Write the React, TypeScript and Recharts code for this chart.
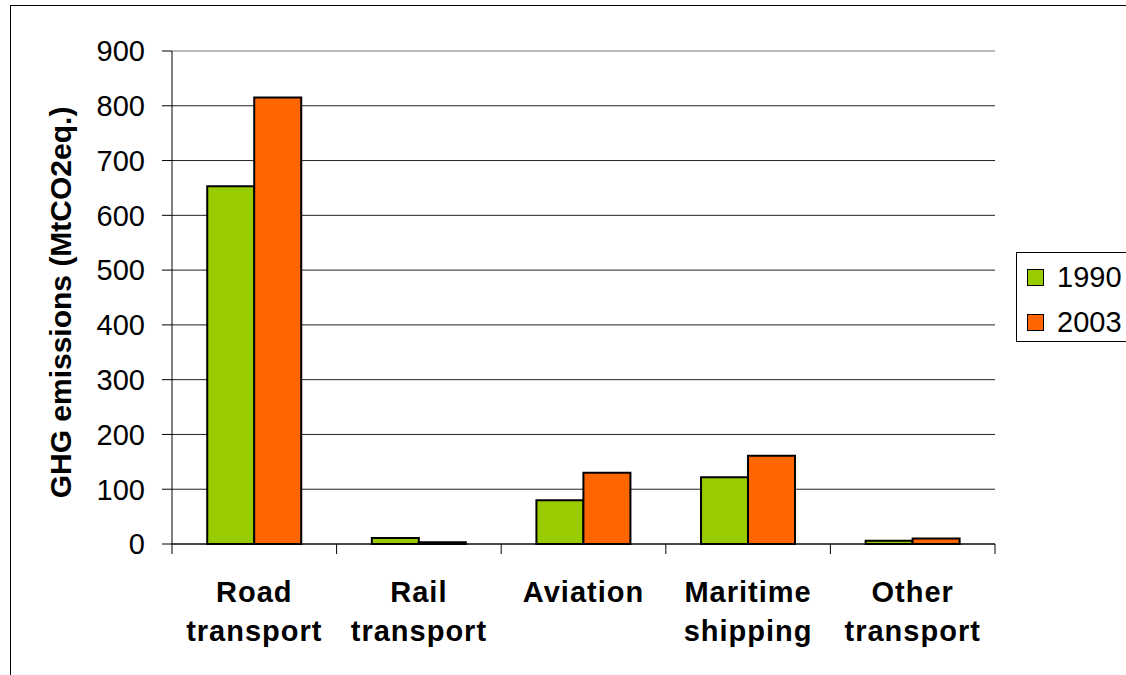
import {
  BarChart,
  Bar,
  XAxis,
  YAxis,
  CartesianGrid,
  Legend,
  ReferenceLine,
  Label,
} from 'recharts'

const categories = ['Road transport', 'Rail transport', 'Aviation', 'Maritime shipping', 'Other transport']
const emissions1990 = [653, 11, 80, 122, 6]
const emissions2003 = [815, 3, 130, 161, 10]
const yTicks = [0, 100, 200, 300, 400, 500, 600, 700, 800, 900]
const seriesNames = ['1990', '2003']
const seriesColors = ['#99CC00', '#FF6600']

const chartData = categories.map((name, i) => ({
  name,
  y1990: emissions1990[i],
  y2003: emissions2003[i],
}))

const FONT = '"Liberation Sans", Arial, sans-serif'

// category label in two lines, plus tick marks on the category boundaries
function CategoryTick(props: any) {
  const { x, y, payload } = props
  const half = payload?.offset ?? 0
  const lines = String(payload.value).split(' ')
  const last = payload.index === categories.length - 1
  return (
    <g>
      <line x1={x - half} x2={x - half} y1={y} y2={y + 10} stroke="#000" />
      {last && <line x1={x + half} x2={x + half} y1={y} y2={y + 10} stroke="#000" />}
      {lines.map((line, i) => (
        <text
          key={i}
          x={x}
          y={y + 58 + i * 39}
          textAnchor="middle"
          fontFamily={FONT}
          fontWeight="bold"
          fontSize={29}
          letterSpacing={1}
          fill="#000"
        >
          {line}
        </text>
      ))}
    </g>
  )
}

function YAxisLabel(props: any) {
  const { viewBox } = props
  const cx = viewBox.x - 12
  const cy = viewBox.y + viewBox.height / 2 + 5
  return (
    <text
      x={cx}
      y={cy}
      transform={`rotate(-90 ${cx} ${cy})`}
      textAnchor="middle"
      dominantBaseline="central"
      fontFamily={FONT}
      fontWeight="bold"
      fontSize={30}
      fill="#000"
    >
      GHG emissions (MtCO2eq.)
    </text>
  )
}

function LegendBox() {
  return (
    <div
      style={{
        border: '1px solid #000',
        background: '#fff',
        width: 130,
        height: 90,
        boxSizing: 'border-box',
        fontFamily: FONT,
        fontSize: 29,
        color: '#000',
      }}
    >
      {seriesNames.map((name, i) => (
        <div
          key={name}
          style={{ display: 'flex', alignItems: 'center', height: 45, paddingLeft: 10, paddingTop: i === 0 ? 2 : 0 }}
        >
          <span
            style={{
              display: 'inline-block',
              width: 15,
              height: 15,
              background: seriesColors[i],
              border: '1px solid #000',
              marginRight: 13,
            }}
          />
          <span>{name}</span>
        </div>
      ))}
    </div>
  )
}

export default function App() {
  return (
    <div
      style={{
        position: 'absolute',
        left: 0,
        top: 0,
        width: 1126,
        height: 675,
        overflow: 'hidden',
        background: '#fff',
      }}
    >
      <div
        style={{
          position: 'absolute',
          left: 10,
          top: 5,
          width: 1200,
          height: 700,
          border: '1px solid #000',
        }}
      />
      <div style={{ position: 'absolute', left: 0, top: 0 }}>
        <BarChart
          width={1126}
          height={675}
          data={chartData}
          margin={{ top: 51, right: 131, left: 72, bottom: 11 }}
          barCategoryGap="21.4%"
          barGap={0}
        >
          <CartesianGrid vertical={false} stroke="#222" />
          <ReferenceLine y={900} stroke="#e4e4e4" />
          <XAxis
            dataKey="name"
            interval={0}
            height={120}
            axisLine={{ stroke: '#000' }}
            tickLine={false}
            tickSize={0}
            tickMargin={0}
            tick={<CategoryTick />}
          />
          <YAxis
            width={100}
            domain={[0, 900]}
            ticks={yTicks}
            interval={0}
            axisLine={{ stroke: '#000' }}
            tickLine={{ stroke: '#000' }}
            tickSize={10}
            tickMargin={17}
            tick={{ fontFamily: FONT, fontSize: 29, fill: '#000' }}
          >
            <Label content={<YAxisLabel />} />
          </YAxis>
          <Legend
            layout="vertical"
            align="center"
            verticalAlign="middle"
            wrapperStyle={{ position: 'absolute', left: 1016, top: 252, width: 130, height: 90 }}
            content={<LegendBox />}
          />
          <Bar
            dataKey="y1990"
            name={seriesNames[0]}
            fill={seriesColors[0]}
            stroke="#000"
            strokeWidth={2}
            isAnimationActive={false}
          />
          <Bar
            dataKey="y2003"
            name={seriesNames[1]}
            fill={seriesColors[1]}
            stroke="#000"
            strokeWidth={2}
            isAnimationActive={false}
          />
        </BarChart>
      </div>
    </div>
  )
}
